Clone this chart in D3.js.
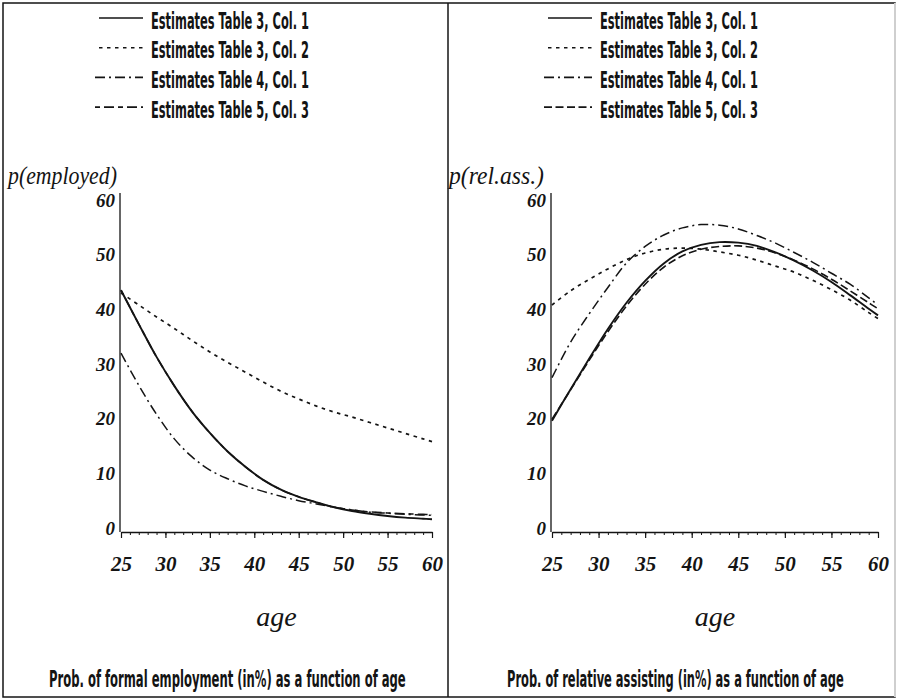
<!DOCTYPE html>
<html>
<head>
<meta charset="utf-8">
<script src="https://cdn.jsdelivr.net/npm/d3@7"></script>
<style>
  html, body { margin: 0; padding: 0; background: #fff; }
  svg { display: block; }
</style>
</head>
<body>
<svg id="chart" width="897" height="699"></svg>
<script>
// ---------------- data ----------------
const ages = [25, 27, 29, 31, 33, 35, 37, 39, 41, 43, 45, 47, 49, 51, 53, 55, 57, 59, 60];

// Left panel: probability of formal employment (%)
const empT3C1 = [43.5, 37.3, 31.3, 26.0, 21.3, 17.4, 14.0, 11.2, 8.8, 7.0, 5.7, 4.7, 3.8, 3.1, 2.6, 2.2, 1.9, 1.7, 1.6];
const empT3C2 = [43.0, 40.8, 38.6, 36.5, 34.3, 32.2, 30.3, 28.5, 26.7, 25.0, 23.6, 22.3, 21.2, 20.3, 19.3, 18.3, 17.3, 16.3, 15.8];
const empT4C1 = [32.0, 26.1, 20.8, 16.3, 13.0, 10.6, 9.0, 7.7, 6.7, 5.8, 5.0, 4.4, 3.8, 3.3, 2.9, 2.7, 2.5, 2.4, 2.3];
const empT5C3 = [43.5, 37.3, 31.3, 26.0, 21.3, 17.4, 14.0, 11.2, 8.8, 7.0, 5.7, 4.7, 3.8, 3.3, 2.95, 2.75, 2.6, 2.5, 2.45];

// Right panel: probability of relative assisting (%)
const assT3C1 = [19.6, 25.4, 31.0, 36.4, 41.2, 45.2, 48.4, 50.6, 51.8, 52.3, 52.2, 51.6, 50.4, 48.9, 47.1, 45.0, 42.6, 40.1, 38.9];
const assT3C2 = [40.8, 43.4, 45.5, 47.4, 49.1, 50.3, 51.0, 51.2, 51.0, 50.5, 49.9, 49.0, 47.9, 46.8, 45.3, 43.6, 41.7, 39.4, 38.3];
const assT4C1 = [27.5, 34.0, 39.2, 44.0, 48.5, 51.5, 53.6, 54.9, 55.5, 55.4, 54.7, 53.5, 52.1, 50.4, 48.6, 46.6, 44.6, 42.1, 40.8];
const assT5C3 = [19.9, 25.3, 30.7, 35.9, 40.6, 44.6, 47.7, 49.8, 51.0, 51.5, 51.6, 51.2, 50.3, 49.0, 47.4, 45.5, 43.4, 41.2, 40.1];

const seriesNames = ["Estimates Table 3, Col. 1", "Estimates Table 3, Col. 2", "Estimates Table 4, Col. 1", "Estimates Table 5, Col. 3"];
const xTicks = [25, 30, 35, 40, 45, 50, 55, 60];
const yTicks = [0, 10, 20, 30, 40, 50, 60];
const yLabels = ["p(employed)", "p(rel.ass.)"];
const xLabel = "age";
const captions = ["Prob. of formal employment (in%) as a function of age",
                  "Prob. of relative assisting (in%) as a function of age"];

// ---------------- styles ----------------
const INK = "#141414";
const leftDash  = [null, "3.5,4.5", "10,4,2,4", "5,4,10,4"];
const rightDash = [null, "3.5,4.5", "10,4,2,4", "8,3.5"];
const widths = [1.9, 1.7, 1.5, 1.6];

const svg = d3.select("#chart");

// frame
svg.append("rect").attr("x", 3).attr("y", 3).attr("width", 892).attr("height", 694)
  .attr("fill", "none").attr("stroke", INK).attr("stroke-width", 1.5);
svg.append("line").attr("x1", 895).attr("x2", 895).attr("y1", 3).attr("y2", 697)
  .attr("stroke", "#cfcfcf").attr("stroke-width", 2);
svg.append("line").attr("x1", 448).attr("x2", 448).attr("y1", 3).attr("y2", 697)
  .attr("stroke", INK).attr("stroke-width", 1.5);

const legendFont = "'Liberation Sans Narrow', 'DejaVu Sans Condensed', 'Arial Narrow', sans-serif";
const serifFont = "'Liberation Serif', 'DejaVu Serif', serif";

// text squeezed horizontally to a target width (keeps it real text)
function fitText(parent, str, x, y, width, attrs) {
  const t = parent.append("text").attr("x", 0).attr("y", 0).text(str);
  Object.entries(attrs).forEach(([k, v]) => t.attr(k, v));
  const natural = t.node().getComputedTextLength();
  const sx = width / natural;
  t.attr("transform", `translate(${x},${y}) scale(${sx},1)`);
  return t;
}

function panel(cfg) {
  const g = svg.append("g");
  const x = d3.scaleLinear().domain([25, 60]).range([cfg.x0, cfg.x1]);
  const y = d3.scaleLinear().domain([0, 60]).range([528, 200]);
  const axisY = y(0) + 4;

  const sansAttrs = { "font-family": legendFont, "font-size": 22.5, "font-weight": "bold", "fill": INK };

  // legend
  const lg = g.append("g");
  seriesNames.forEach((name, i) => {
    const base = 28.5 + i * 29.7;
    lg.append("line")
      .attr("x1", cfg.legX - 52 + (i >= 2 ? -4 : 0)).attr("x2", cfg.legX - 8)
      .attr("y1", base - 10.5).attr("y2", base - 10.5)
      .attr("stroke", INK).attr("stroke-width", 1.6)
      .attr("stroke-dasharray", cfg.dash[i]);
    fitText(lg, name, cfg.legX, base, 158, sansAttrs);
  });

  // y title
  fitText(g, cfg.yTitle, cfg.yTitleX, 184, cfg.yTitleLen,
    { "font-family": serifFont, "font-style": "italic", "font-size": 26, "fill": INK });

  // y axis
  const ya = g.append("g").attr("transform", `translate(${cfg.x0 - 1},0)`)
    .call(d3.axisLeft(y).tickValues(yTicks).tickSize(0).tickPadding(5).tickFormat(d3.format("d")));
  ya.select(".domain").remove();
  ya.selectAll("text")
    .attr("font-family", serifFont).attr("font-style", "italic").attr("font-weight", "bold")
    .attr("font-size", 19).attr("fill", INK);
  g.append("line")
    .attr("x1", cfg.x0 - 1).attr("x2", cfg.x0 - 1)
    .attr("y1", axisY).attr("y2", y(61.3))
    .attr("stroke", INK).attr("stroke-width", 1.3);

  // x axis: minor ticks, then major ticks with labels
  const minor = g.append("g").attr("transform", `translate(0,${axisY})`)
    .call(d3.axisBottom(x).tickValues(d3.range(25, 61, 1)).tickSize(3).tickFormat(""));
  minor.select(".domain").remove();
  minor.selectAll("line").attr("stroke", INK).attr("stroke-width", 1);
  const xa = g.append("g").attr("transform", `translate(0,${axisY})`)
    .call(d3.axisBottom(x).tickValues(xTicks).tickSize(6).tickSizeOuter(0).tickPadding(18).tickFormat(d3.format("d")));
  xa.select(".domain").attr("stroke", INK).attr("stroke-width", 1.3);
  xa.selectAll(".tick line").attr("stroke", INK).attr("stroke-width", 1.2);
  xa.selectAll("text")
    .attr("font-family", serifFont).attr("font-style", "italic").attr("font-weight", "bold")
    .attr("font-size", 21).attr("fill", INK);

  // x title
  g.append("text")
    .attr("x", (cfg.x0 + cfg.x1) / 2).attr("y", 626).attr("text-anchor", "middle")
    .attr("font-family", serifFont).attr("font-style", "italic").attr("font-size", 28)
    .attr("fill", INK).text(xLabel);

  // caption
  fitText(g, cfg.caption, cfg.capX, 687, cfg.capLen, sansAttrs);

  // curves
  const line = d3.line().x((d, i) => x(ages[i])).y(d => y(d)).curve(d3.curveCatmullRom.alpha(0.5));
  cfg.order.forEach(i => {
    g.append("path").datum(cfg.series[i])
      .attr("d", line)
      .attr("fill", "none").attr("stroke", INK)
      .attr("stroke-width", widths[i])
      .attr("stroke-dasharray", cfg.dash[i]);
  });
}

panel({
  x0: 121, x1: 432, legX: 151, dash: leftDash,
  yTitle: yLabels[0], yTitleX: 8, yTitleLen: 109,
  caption: captions[0], capX: 49, capLen: 357,
  series: [empT3C1, empT3C2, empT4C1, empT5C3], order: [3, 0, 1, 2]
});
panel({
  x0: 552, x1: 878, legX: 600, dash: rightDash,
  yTitle: yLabels[1], yTitleX: 449, yTitleLen: 95,
  caption: captions[1], capX: 507, capLen: 337,
  series: [assT3C1, assT3C2, assT4C1, assT5C3], order: [0, 1, 2, 3]
});
</script>
</body>
</html>
